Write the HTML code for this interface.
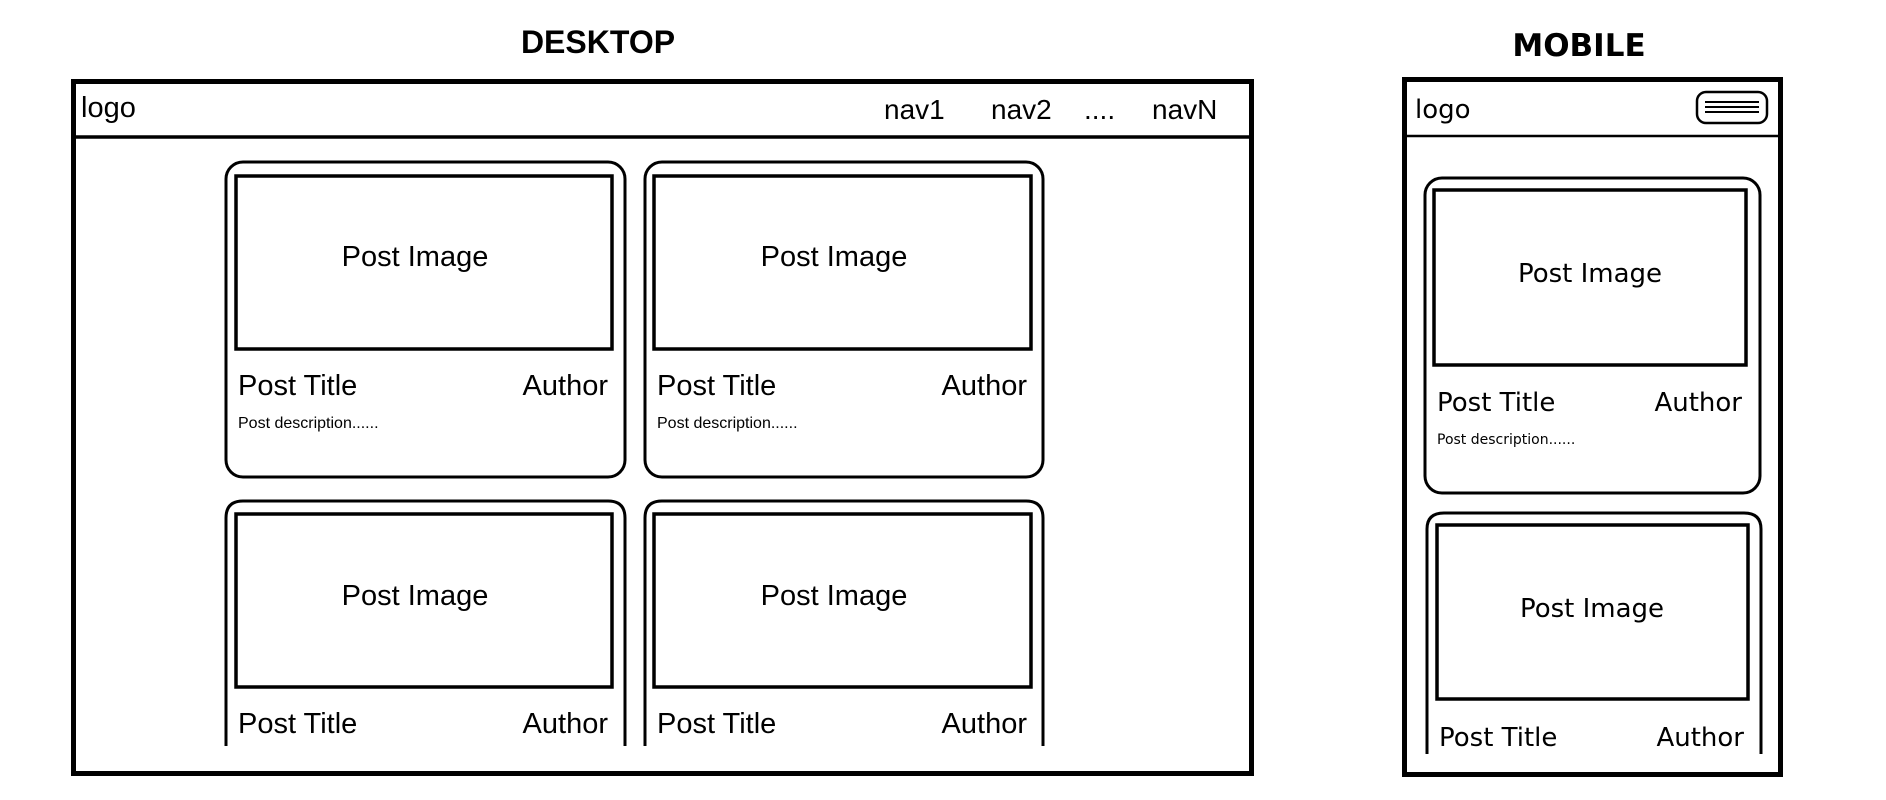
<!DOCTYPE html>
<html><head><meta charset="utf-8"><style>
html,body{margin:0;padding:0;background:#fff;}
svg{display:block;}
.d{font-family:"Liberation Sans",sans-serif;fill:#000;}
.m{font-family:"DejaVu Sans","Liberation Sans",sans-serif;fill:#000;}
</style></head><body>
<svg width="1886" height="800" viewBox="0 0 1886 800" xmlns="http://www.w3.org/2000/svg">
<g fill="none" stroke="#000">
<rect x="73.5" y="81.5" width="1178" height="692" stroke-width="5"/>
<line x1="73" y1="137" x2="1252" y2="137" stroke-width="3.5"/>
<rect x="226" y="162" width="399" height="315" rx="17" stroke-width="3"/>
<rect x="236" y="176" width="376" height="173" stroke-width="3.5"/>
<rect x="645" y="162" width="398" height="315" rx="17" stroke-width="3"/>
<rect x="654" y="176" width="377" height="173" stroke-width="3.5"/>
<path d="M226 746 V518 Q226 501 243 501 H608 Q625 501 625 518 V746" stroke-width="3"/>
<rect x="236" y="514" width="376" height="173" stroke-width="3.5"/>
<path d="M645 746 V518 Q645 501 662 501 H1026 Q1043 501 1043 518 V746" stroke-width="3"/>
<rect x="654" y="514" width="377" height="173" stroke-width="3.5"/>
<rect x="1404.5" y="79.5" width="376" height="695" stroke-width="5"/>
<line x1="1404" y1="136" x2="1781" y2="136" stroke-width="2.5"/>
<rect x="1697" y="92" width="70" height="31" rx="9" stroke-width="2.5"/>
<line x1="1705" y1="102" x2="1759" y2="102" stroke-width="2"/>
<line x1="1705" y1="107" x2="1759" y2="107" stroke-width="2"/>
<line x1="1705" y1="112" x2="1759" y2="112" stroke-width="2"/>
<rect x="1425" y="178" width="335" height="315" rx="17" stroke-width="3"/>
<rect x="1434" y="190" width="312" height="175" stroke-width="3.5"/>
<path d="M1427 754 V529 Q1427 513 1444 513 H1744 Q1761 513 1761 529 V754" stroke-width="3"/>
<rect x="1437" y="525" width="311" height="174" stroke-width="3.5"/>
</g>
<text class="d" x="598" y="53" font-size="32" font-weight="bold" text-anchor="middle">DESKTOP</text>
<text class="d" x="81" y="117" font-size="29">logo</text>
<text class="d" x="884" y="119" font-size="28">nav1</text>
<text class="d" x="991" y="119" font-size="28">nav2</text>
<text class="d" x="1084" y="119" font-size="28">....</text>
<text class="d" x="1152" y="119" font-size="28">navN</text>
<g class="d" font-size="29">
<text x="415" y="266" text-anchor="middle">Post Image</text>
<text x="238" y="395">Post Title</text>
<text x="608" y="395" text-anchor="end">Author</text>
<text x="238" y="428" font-size="16">Post description......</text>
<text x="834" y="266" text-anchor="middle">Post Image</text>
<text x="657" y="395">Post Title</text>
<text x="1027" y="395" text-anchor="end">Author</text>
<text x="657" y="428" font-size="16">Post description......</text>
<text x="415" y="605" text-anchor="middle">Post Image</text>
<text x="238" y="733">Post Title</text>
<text x="608" y="733" text-anchor="end">Author</text>
<text x="834" y="605" text-anchor="middle">Post Image</text>
<text x="657" y="733">Post Title</text>
<text x="1027" y="733" text-anchor="end">Author</text>
</g>
<text class="m" x="1579" y="56" font-size="31" font-weight="bold" text-anchor="middle">MOBILE</text>
<g class="m" font-size="26">
<text x="1415" y="118">logo</text>
<text x="1590" y="282" text-anchor="middle">Post Image</text>
<text x="1437" y="411">Post Title</text>
<text x="1742" y="411" text-anchor="end">Author</text>
<text x="1437" y="444" font-size="14">Post description......</text>
<text x="1592" y="617" text-anchor="middle">Post Image</text>
<text x="1439" y="746">Post Title</text>
<text x="1744" y="746" text-anchor="end">Author</text>
</g>
</svg>
</body></html>
